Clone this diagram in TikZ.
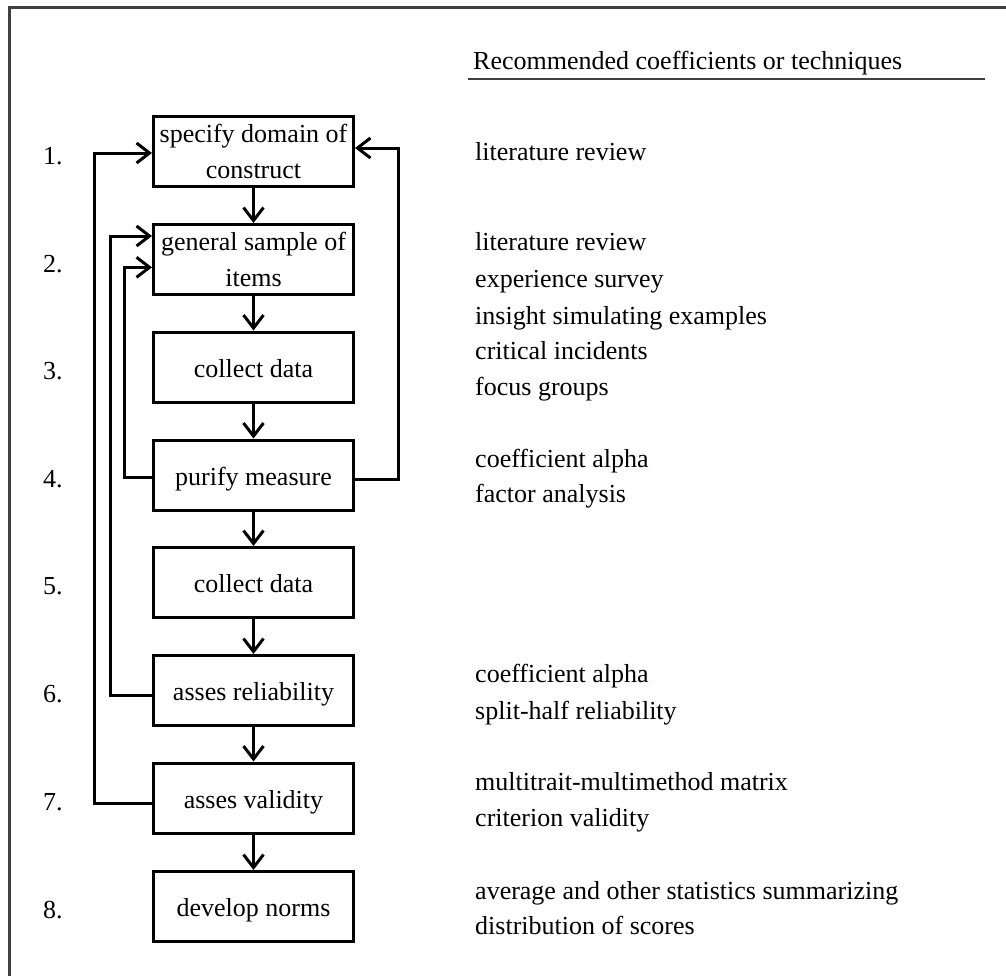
\documentclass[tikz,border=0pt]{standalone}
\usepackage{fontspec}
\setmainfont{Liberation Serif}
\usetikzlibrary{arrows.meta}
\begin{document}
\begin{tikzpicture}[x=1pt,y=-1pt,
  stepbox/.style={draw=black, line width=3pt, minimum width=200pt, minimum height=70pt,
    inner sep=0pt, align=center, font=\fontsize{26}{36}\selectfont},
  oneline/.style={text height=20pt, text depth=0pt},
  flow/.style={line width=3pt, -{Straight Barb[length=13pt,width=20pt]}},
  back/.style={line width=3pt, line join=miter, -{Straight Barb[length=13pt,width=20pt]}},
  txt/.style={anchor=base west, inner sep=0pt, font=\fontsize{26}{36}\selectfont},
  rule/.style={draw=black!75, line width=2.5pt}
]
\clip (0,0) rectangle (1006,975);

% outer frame
\draw[rule] (9.5,1000) -- (9.5,7.5) -- (1030,7.5);

% process steps
\node[stepbox] (b1) at (253.5,151.6) {specify domain of\\construct};
\node[stepbox] (b2) at (253.5,259.5) {general sample of\\items};
\node[stepbox,oneline] (b3) at (253.5,367) {collect data};
\node[stepbox,oneline] (b4) at (253.5,475) {purify measure};
\node[stepbox,oneline] (b5) at (253.5,582.5) {collect data};
\node[stepbox,oneline] (b6) at (253.5,690.5) {asses reliability};
\node[stepbox,oneline] (b7) at (253.5,798) {asses validity};
\node[stepbox,oneline] (b8) at (253.5,906.5) {develop norms};

% step numbers
\node[txt] (n1) at (43,164) {1.};
\node[txt] (n2) at (43,272) {2.};
\node[txt] (n3) at (43,379) {3.};
\node[txt] (n4) at (43,487) {4.};
\node[txt] (n5) at (43,594) {5.};
\node[txt] (n6) at (43,702) {6.};
\node[txt] (n7) at (43,810) {7.};
\node[txt] (n8) at (43,918) {8.};

% forward flow
\foreach \a/\b in {b1/b2,b2/b3,b3/b4,b4/b5,b5/b6,b6/b7,b7/b8}
  \draw[flow] (\a) -- (\b);

% feedback loops
\coordinate (lo) at (94,0);
\coordinate (lm) at (110,0);
\coordinate (li) at (124,0);
\coordinate (ro) at (398,0);
\coordinate (s7) at ([yshift=-5pt]b7.west);
\coordinate (s6) at ([yshift=-4.5pt]b6.west);
\coordinate (s4w) at ([yshift=-2pt]b4.west);
\coordinate (s4e) at ([yshift=-4pt]b4.east);
\coordinate (t1w) at ([yshift=-1.4pt]b1.west);
\coordinate (t1e) at ([yshift=3.6pt]b1.east);
\coordinate (t2a) at ([yshift=23.5pt]b2.west);
\coordinate (t2b) at ([yshift=-7.8pt]b2.west);

\draw[back] (s7) -- (s7 -| lo) |- (t1w);
\draw[back] (s6) -- (s6 -| lm) |- (t2a);
\draw[back] (s4w) -- (s4w -| li) |- (t2b);
\draw[back] (s4e) -- (s4e -| ro) |- (t1e);

% recommended techniques
\node[txt] (hd) at (473,69) {Recommended coefficients or techniques};
\draw[rule] (468,79) -- (985,79);

\node[txt] (r1) at (475,160) {literature review};
\node[txt] (r2) at (475,250) {literature review};
\node[txt] (r3) at (475,287) {experience survey};
\node[txt] (r4) at (475,324) {insight simulating examples};
\node[txt] (r5) at (475,359) {critical incidents};
\node[txt] (r6) at (475,395) {focus groups};
\node[txt] (r7) at (475,467) {coefficient alpha};
\node[txt] (r8) at (475,502) {factor analysis};
\node[txt] (r9) at (475,682) {coefficient alpha};
\node[txt] (r10) at (475,719) {split-half reliability};
\node[txt] (r11) at (475,790) {multitrait-multimethod matrix};
\node[txt] (r12) at (475,826) {criterion validity};
\node[txt] (r13) at (475,899) {average and other statistics summarizing};
\node[txt] (r14) at (475,934) {distribution of scores};
\end{tikzpicture}
\end{document}
